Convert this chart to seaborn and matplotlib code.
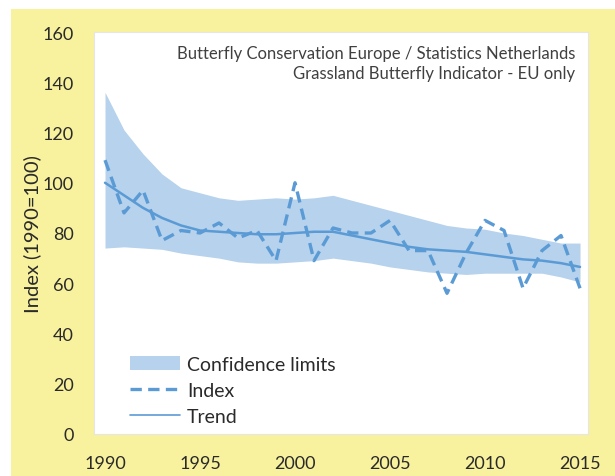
import matplotlib
matplotlib.use("Agg")
import matplotlib.pyplot as plt
import matplotlib.patches as mpatches
from matplotlib.lines import Line2D
import seaborn as sns
import pandas as pd

# Datos
years = list(range(1990, 2016))
index_vals = [109, 88, 97, 77, 81, 80, 84, 78, 81, 69, 100, 69, 82, 80, 80, 85,
              73, 73, 56, 72, 85, 81, 58, 73, 79, 58]
trend_vals = [100, 95, 90, 86, 83, 81, 80.5, 80, 79.5, 79.5, 80, 80.5, 80.5, 79,
              77.5, 76, 74.5, 73.5, 73, 72.5, 71.5, 70.5, 69.5, 69, 68, 66.5]
upper_ci = [136, 121, 111.5, 103.5, 98, 96, 94, 93, 93.5, 94, 93.5, 94, 95, 93,
            91, 89, 87, 85, 83, 82, 81.5, 80, 79, 77.5, 76, 76]
lower_ci = [74, 74.5, 74, 73.5, 72, 71, 70, 68.5, 68, 68, 68.5, 69, 70, 69, 68,
            66.5, 65.5, 64.5, 64, 63.5, 64, 64, 64, 64, 62.5, 60.5]
xticks = [1990, 1995, 2000, 2005, 2010, 2015]
yticks = [0, 20, 40, 60, 80, 100, 120, 140, 160]

df = pd.DataFrame({"Year": years, "Index": index_vals, "Trend": trend_vals,
                   "Upper": upper_ci, "Lower": lower_ci})

sns.set_style("white")
plt.rcParams['font.family'] = ['Lato', 'DejaVu Sans']

amarillo = "#F8F19E"
azul = "#5B9BD5"
azul_claro = "#B7D2EC"
texto = "#2A2A2A"
guiones = [3.4, 1.9]

fig = plt.figure(figsize=(6.15, 4.77), dpi=100)
fig.patch.set_facecolor(amarillo)
# borde blanco arriba y a la izquierda
fig.add_artist(mpatches.Rectangle((0, 0), 11 / 615, 1, transform=fig.transFigure,
                                  facecolor="white", edgecolor="none"))
fig.add_artist(mpatches.Rectangle((0, 1 - 10 / 477), 1, 10 / 477, transform=fig.transFigure,
                                  facecolor="white", edgecolor="none"))

ax = fig.add_axes([94 / 615, 42 / 477, 494 / 615, 402 / 477])
ax.set_facecolor("white")

ax.fill_between(df["Year"], df["Lower"], df["Upper"], color=azul_claro, linewidth=0)
sns.lineplot(data=df, x="Year", y="Trend", ax=ax, color=azul, linewidth=1.8)
sns.lineplot(data=df, x="Year", y="Index", ax=ax, color=azul, linewidth=2.4)
ax.lines[-1].set_dashes(guiones)

ax.set_xlim(1989.42, 2015.42)
ax.set_ylim(0, 160)
ax.set_xticks(xticks)
ax.set_yticks(yticks)
ax.tick_params(axis="both", length=0, labelsize=13, labelcolor=texto)
ax.tick_params(axis="x", pad=15)
ax.tick_params(axis="y", pad=14.5)
ax.set_xlabel("")
ax.set_ylabel("Index (1990=100)", fontsize=14.5, color=texto, labelpad=1)
for s in ax.spines.values():
    s.set_color("#E6E6E6")
    s.set_linewidth(0.8)

ax.text(0.974, 0.968, "Butterfly Conservation Europe / Statistics Netherlands\n"
        "Grassland Butterfly Indicator - EU only", transform=ax.transAxes,
        ha="right", va="top", fontsize=12, color="#404040", linespacing=1.3)

handles = [mpatches.Patch(facecolor=azul_claro, edgecolor="none"),
           Line2D([], [], color=azul, linewidth=2.4, dashes=guiones),
           Line2D([], [], color=azul, linewidth=1.2)]
leg = ax.legend(handles, ["Confidence limits", "Index", "Trend"], loc="lower left",
                bbox_to_anchor=(0.037, -0.02), frameon=False, fontsize=14,
                handlelength=2.6, handletextpad=0.35, labelspacing=0.45)
for t in leg.get_texts():
    t.set_color(texto)

fig.savefig("out.png", dpi=100, facecolor=fig.get_facecolor())
